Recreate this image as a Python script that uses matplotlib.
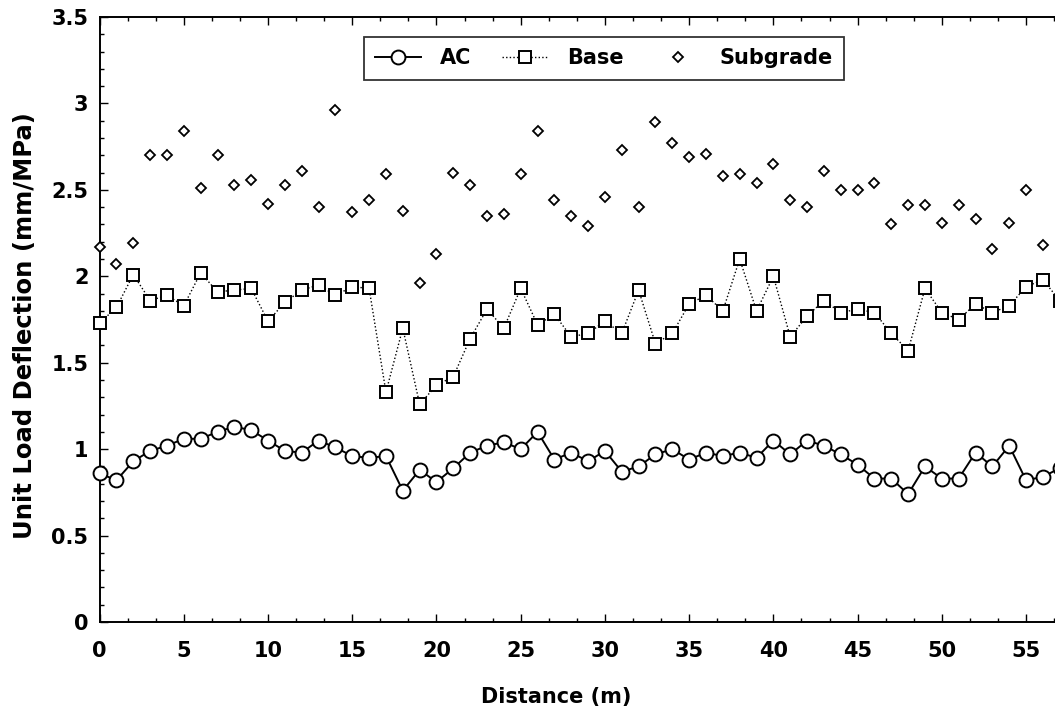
import numpy as np
import matplotlib.pyplot as plt
from matplotlib.ticker import MultipleLocator, FormatStrFormatter

# =========================
# Data
# =========================
dist = np.arange(0, 58)

ac = [0.86, 0.82, 0.93, 0.99, 1.02, 1.06, 1.06, 1.10, 1.13, 1.11,
      1.05, 0.99, 0.98, 1.05, 1.01, 0.96, 0.95, 0.96, 0.76, 0.88,
      0.81, 0.89, 0.98, 1.02, 1.04, 1.00, 1.10, 0.94, 0.98, 0.93,
      0.99, 0.87, 0.90, 0.97, 1.00, 0.94, 0.98, 0.96, 0.98, 0.95,
      1.05, 0.97, 1.05, 1.02, 0.97, 0.91, 0.83, 0.83, 0.74, 0.90,
      0.83, 0.83, 0.98, 0.90, 1.02, 0.82, 0.84, 0.89]

base = [1.73, 1.82, 2.01, 1.86, 1.89, 1.83, 2.02, 1.91, 1.92, 1.93,
        1.74, 1.85, 1.92, 1.95, 1.89, 1.94, 1.93, 1.33, 1.70, 1.26,
        1.37, 1.42, 1.64, 1.81, 1.70, 1.93, 1.72, 1.78, 1.65, 1.67,
        1.74, 1.67, 1.92, 1.61, 1.67, 1.84, 1.89, 1.80, 2.10, 1.80,
        2.00, 1.65, 1.77, 1.86, 1.79, 1.81, 1.79, 1.67, 1.57, 1.93,
        1.79, 1.75, 1.84, 1.79, 1.83, 1.94, 1.98, 1.86]

subgrade = [2.17, 2.07, 2.19, 2.70, 2.70, 2.84, 2.51, 2.70, 2.53, 2.56,
            2.42, 2.53, 2.61, 2.40, 2.96, 2.37, 2.44, 2.59, 2.38, 1.96,
            2.13, 2.60, 2.53, 2.35, 2.36, 2.59, 2.84, 2.44, 2.35, 2.29,
            2.46, 2.73, 2.40, 2.89, 2.77, 2.69, 2.71, 2.58, 2.59, 2.54,
            2.65, 2.44, 2.40, 2.61, 2.50, 2.50, 2.54, 2.30, 2.41, 2.41,
            2.31, 2.41, 2.33, 2.16, 2.31, 2.50, 2.18]

xticks = [0, 5, 10, 15, 20, 25, 30, 35, 40, 45, 50, 55]

# =========================
# Style
# =========================
plt.rcParams["font.family"] = ["DejaVu Sans"]
plt.rcParams["font.weight"] = "bold"
plt.rcParams["axes.labelweight"] = "bold"

FS = 15

fig = plt.figure(figsize=(10.55, 7.13), dpi=100)
# axes runs past the right edge of the figure, like the cropped original
ax = fig.add_axes([0.0944, 0.1276, 0.958, 0.8485])

ax.plot(dist, ac, color="black", linestyle="-", linewidth=1.4,
        marker="o", markersize=10, markerfacecolor="white",
        markeredgecolor="black", markeredgewidth=1.4, label="AC",
        clip_on=False, zorder=3)
ax.plot(dist, base, color="black", linestyle=(0, (1, 1.6)), linewidth=1.0,
        marker="s", markersize=9, markerfacecolor="white",
        markeredgecolor="black", markeredgewidth=1.4, label="Base",
        clip_on=False, zorder=3)
ax.plot(dist[:len(subgrade)], subgrade, linestyle="none",
        marker="D", markersize=5.4, markerfacecolor="white",
        markeredgecolor="black", markeredgewidth=1.3, label="Subgrade",
        clip_on=False, zorder=3)

ax.set_xlim(0, 60)
ax.set_ylim(0, 3.5)

ax.set_xticks(xticks)
ax.xaxis.set_minor_locator(MultipleLocator(5 / 3))
ax.yaxis.set_major_locator(MultipleLocator(0.5))
ax.yaxis.set_minor_locator(MultipleLocator(0.1))
ax.yaxis.set_major_formatter(FormatStrFormatter("%g"))

ax.tick_params(which="both", direction="in", top=True, right=False,
               labelsize=FS, width=1.0)
ax.tick_params(which="major", length=6)
ax.tick_params(which="minor", length=3)
ax.tick_params(axis="x", which="major", pad=14)
ax.tick_params(axis="y", which="major", pad=8)
for lab in ax.get_xticklabels() + ax.get_yticklabels():
    lab.set_fontweight("bold")

for side in ["left", "bottom", "top"]:
    ax.spines[side].set_linewidth(1.4)
ax.spines["right"].set_visible(False)

ax.set_xlabel("Distance (m)", fontsize=FS, fontweight="bold")
ax.set_ylabel("Unit Load Deflection (mm/MPa)", fontsize=17.5, fontweight="bold")
ax.xaxis.set_label_coords(0.452, -0.108)
ax.yaxis.set_label_coords(-0.062, 0.49)

leg = ax.legend(ncol=3, loc="upper center", bbox_to_anchor=(0.499, 0.967),
                fontsize=FS, frameon=True, fancybox=False, shadow=False,
                handlelength=2.2, handletextpad=0.9, columnspacing=1.5,
                borderpad=0.55, borderaxespad=0)
leg.get_frame().set_edgecolor("black")
leg.get_frame().set_linewidth(1.3)
for t in leg.get_texts():
    t.set_fontweight("bold")

fig.savefig("out.png", dpi=100)
